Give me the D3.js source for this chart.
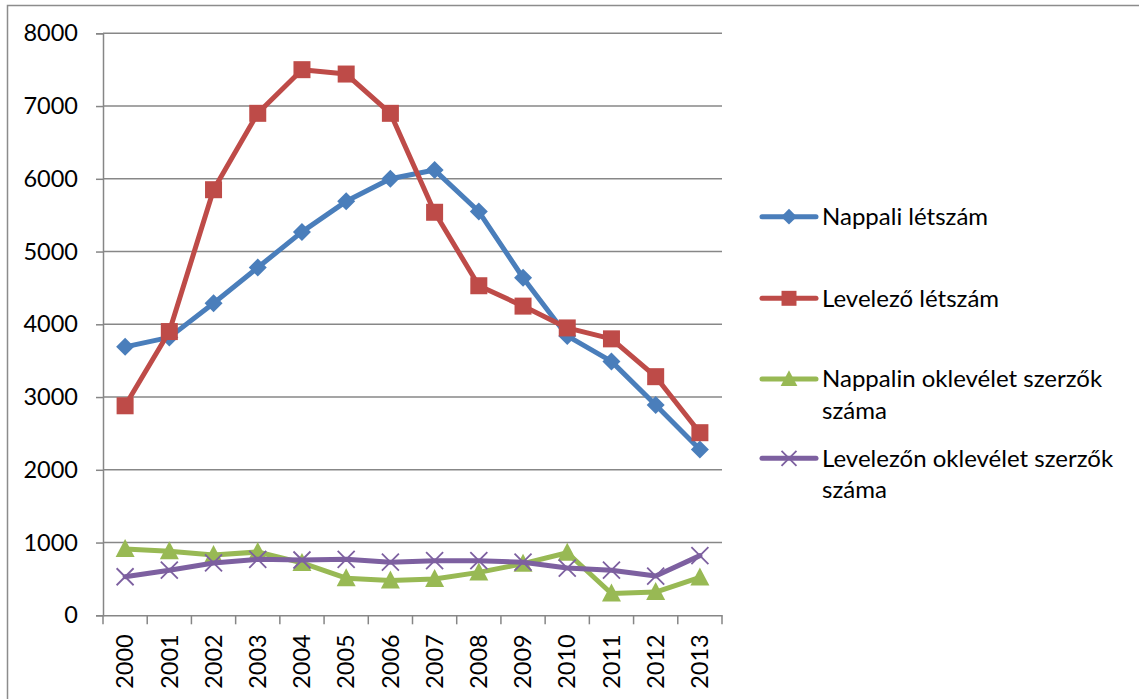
<!DOCTYPE html>
<html><head><meta charset="utf-8">
<script src="https://cdn.jsdelivr.net/npm/d3@7/dist/d3.min.js"></script>
<style>body{margin:0;background:#fff;}svg{display:block;}</style>
</head><body>
<svg id="c" width="1139" height="699"></svg>
<script>
const years = ["2000","2001","2002","2003","2004","2005","2006","2007","2008","2009","2010","2011","2012","2013"];
const nappaliLetszam = [3690,3820,4290,4780,5270,5690,6000,6120,5550,4640,3840,3490,2890,2280];
const levelezoLetszam = [2880,3900,5850,6900,7500,7440,6900,5540,4530,4250,3950,3800,3280,2510];
const nappalinOklevel = [910,880,830,870,720,510,480,500,590,710,860,300,320,520];
const levelezonOklevel = [530,620,720,770,760,770,730,750,750,730,650,620,540,820];
const yTicks = [0,1000,2000,3000,4000,5000,6000,7000,8000];
const seriesNames = [["Nappali létszám"],["Levelező létszám"],["Nappalin oklevélet szerzők","száma"],["Levelezőn oklevélet szerzők","száma"]];
const colors = ["#4a7ebb","#be4b48","#98b954","#7d60a0"];
const markers = ["diamond","square","triangle","x"];

const font = "Lato, 'Open Sans', sans-serif";
const svg = d3.select("#c");
svg.append("rect").attr("x",7.5).attr("y",5.5).attr("width",1200).attr("height",800)
  .attr("fill","none").attr("stroke","#8c8c8c").attr("stroke-width",1.5);

const L=103, R=722, T=33.3, B=615.3;
const x = d3.scaleBand().domain(years).range([L,R]);
const y = d3.scaleLinear().domain([0,8000]).range([B,T]);

// gridlines
svg.append("g").selectAll("line").data(yTicks.filter(d=>d>0)).join("line")
  .attr("x1",L).attr("x2",R).attr("y1",d=>y(d)).attr("y2",d=>y(d))
  .attr("stroke","#878787").attr("stroke-width",1.5);

// y axis
const ya = svg.append("g").attr("transform",`translate(${L},0)`)
  .call(d3.axisLeft(y).tickValues(yTicks).tickSize(7).tickPadding(18).tickFormat(d3.format("d")));
ya.select(".domain").attr("stroke","#868686").attr("stroke-width",1.5);
ya.selectAll(".tick line").attr("stroke","#868686").attr("stroke-width",1.5);
ya.selectAll("text").attr("font-family",font).attr("font-size",23.5).attr("fill","#000");

// x axis
const xa = svg.append("g").attr("transform",`translate(0,${B})`)
  .call(d3.axisBottom(x).tickSize(0).tickSizeOuter(0));
xa.select(".domain").attr("stroke","#868686").attr("stroke-width",1.5);
xa.selectAll(".tick text").attr("font-family",font).attr("font-size",23.5).attr("fill","#000")
  .attr("transform","rotate(-90)").attr("text-anchor","end").attr("dy","0.35em").attr("y",0).attr("x",-19);
// category boundary ticks
const bounds = years.map(d=>x(d)).concat([R]);
svg.append("g").selectAll("line").data(bounds).join("line")
  .attr("x1",d=>d).attr("x2",d=>d).attr("y1",B).attr("y2",B+9)
  .attr("stroke","#868686").attr("stroke-width",1.5);

const data = [nappaliLetszam, levelezoLetszam, nappalinOklevel, levelezonOklevel];
const line = d3.line().x((d,i)=>x(years[i])+x.bandwidth()/2).y(d=>y(d));

function drawMarker(g, type, cx, cy, color, s){
  if(type==="diamond"){
    const h=9*s;
    g.append("path").attr("d",`M${cx},${cy-h}L${cx+h},${cy}L${cx},${cy+h}L${cx-h},${cy}Z`).attr("fill",color);
  } else if(type==="square"){
    const h=8.5*s;
    g.append("rect").attr("x",cx-h).attr("y",cy-h).attr("width",2*h).attr("height",2*h).attr("fill",color);
  } else if(type==="triangle"){
    g.append("path").attr("d",`M${cx},${cy-10*s}L${cx+9.5*s},${cy+8*s}L${cx-9.5*s},${cy+8*s}Z`).attr("fill",color);
  } else {
    const h=8.5*s;
    g.append("path").attr("d",`M${cx-h},${cy-h}L${cx+h},${cy+h}M${cx+h},${cy-h}L${cx-h},${cy+h}`)
      .attr("stroke",color).attr("stroke-width",1.8).attr("fill","none");
  }
}

data.forEach((vals,si)=>{
  const g = svg.append("g");
  g.append("path").datum(vals).attr("d",line).attr("fill","none")
    .attr("stroke",colors[si]).attr("stroke-width",5).attr("stroke-linejoin","round").attr("stroke-linecap","round");
  vals.forEach((v,i)=>drawMarker(g, markers[si], x(years[i])+x.bandwidth()/2, y(v), colors[si], 1));
});

// legend
const legY = [216.7, 298.3, 379, 458.3];
seriesNames.forEach((lines,i)=>{
  const g = svg.append("g");
  g.append("line").attr("x1",762).attr("x2",816).attr("y1",legY[i]).attr("y2",legY[i])
    .attr("stroke",colors[i]).attr("stroke-width",5).attr("stroke-linecap","round");
  drawMarker(g, markers[i], 789, legY[i], colors[i], 0.88);
  lines.forEach((t,j)=>{
    g.append("text").attr("x",822).attr("y",legY[i]+j*31.5).attr("dy","0.35em")
      .attr("font-family",font).attr("font-size",24).attr("fill","#000").text(t);
  });
});
</script>
</body></html>
